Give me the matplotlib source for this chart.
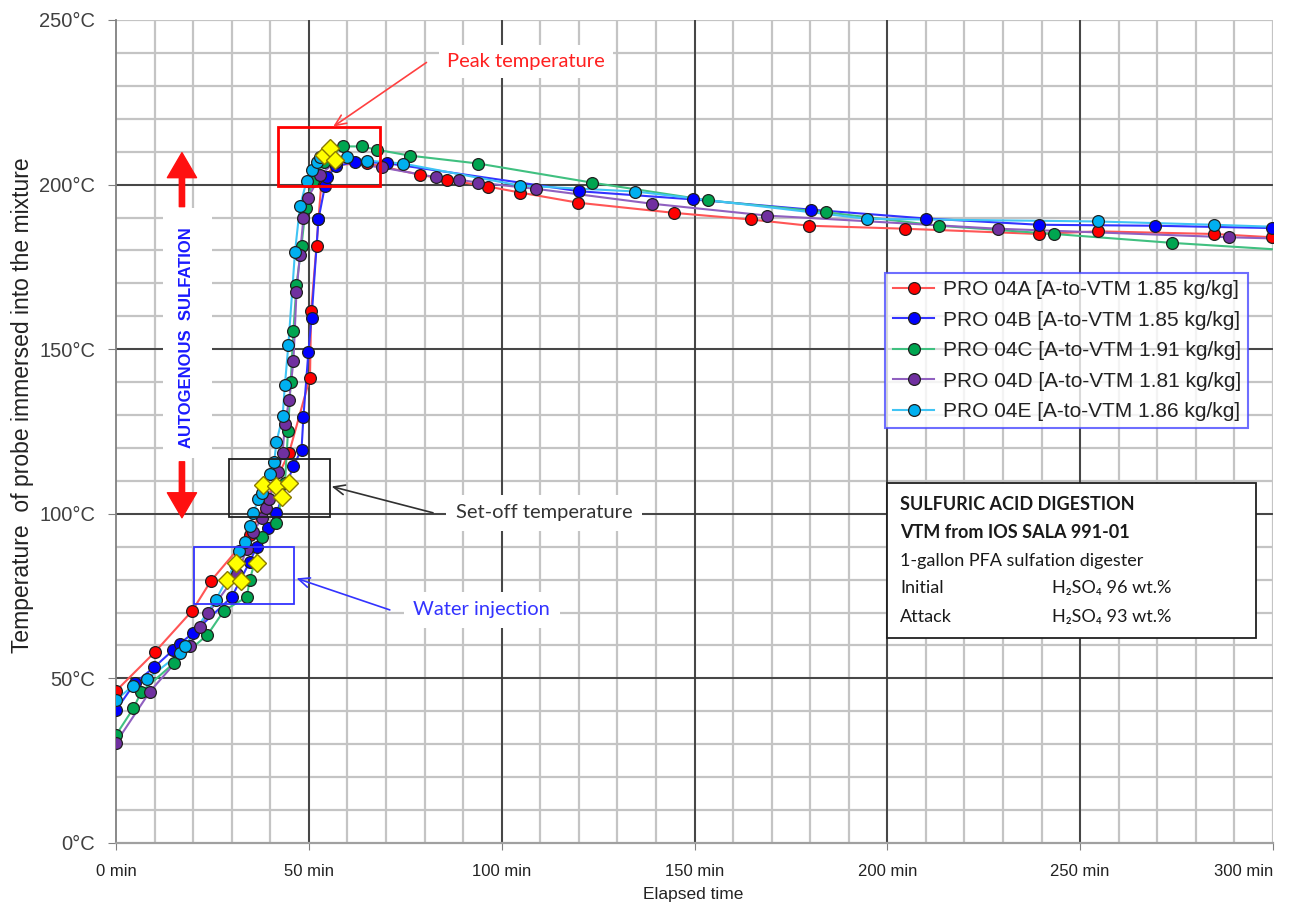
import matplotlib.pyplot as plt
from matplotlib.patches import Rectangle
from matplotlib.lines import Line2D

# Elapsed time (min) and probe temperature (deg C) for each run
red_t = [0, 10, 19.8, 24.6, 34.7, 44.9, 50.3, 50.6, 52, 52.5, 53.3, 57, 65, 78.8, 85.7, 96.5,
         104.7, 119.8, 144.8, 164.6, 179.7, 204.5, 239.3, 254.5, 284.6, 299.7]
red_T = [46.2, 57.9, 70.6, 79.6, 93.6, 118.6, 141.4, 161.5, 181.5, 189.5, 201.5, 206, 206.5, 203,
         201.5, 199.4, 197.6, 194.5, 191.4, 189.4, 187.5, 186.6, 185, 185.8, 185, 184]

blue_t = [0, 4.9, 9.9, 14.9, 16.6, 19.9, 30, 34.7, 36.5, 39.5, 41.6, 46, 48.1, 48.6, 49.9, 50.7,
          52.5, 54.2, 54.8, 57, 62, 70.2, 120, 149.6, 180.1, 210, 239.3, 269.4, 299.7]
blue_T = [40.4, 48.6, 53.4, 58.7, 60.6, 63.7, 74.7, 85.5, 90, 95.6, 100.2, 114.6, 119.5, 129.5,
          149.3, 159.4, 189.5, 199.7, 202.3, 205.5, 207, 206.5, 198, 195.5, 192.4, 189.7, 187.8,
          187.5, 186.8]

green_t = [0, 4.5, 6.6, 15, 23.7, 28, 33.9, 34.7, 37.8, 41.6, 43.8, 44.6, 45.3, 46, 46.8, 48.1,
           49.2, 51, 54, 58.9, 63.7, 67.6, 76.2, 93.9, 123.4, 153.6, 184, 213.4, 243.3, 273.8, 305]
green_T = [32.8, 40.9, 46, 54.6, 63.2, 70.6, 74.7, 80, 93, 97.3, 109.3, 125, 140, 155.6, 169.6,
           181.5, 193, 201, 207, 211.6, 211.6, 210.6, 208.8, 206.4, 200.6, 195.2, 191.6, 187.5,
           185, 182.3, 180]

purple_t = [0, 8.8, 19.2, 21.8, 23.9, 31.5, 33.9, 35.6, 37.8, 38.9, 39.7, 42.1, 43.2, 43.8, 44.9,
            46, 46.8, 47.7, 48.6, 49.8, 53, 57, 68.9, 83.1, 88.9, 93.9, 109, 138.9, 168.7, 228.6,
            288.5, 305]
purple_T = [30.5, 46, 59.9, 65.5, 69.8, 81.8, 89.2, 94.6, 98.6, 101.7, 104.4, 112.8, 118.6, 127.2,
            134.7, 146.3, 167.5, 178.7, 189.8, 196, 203, 207, 205.2, 202.2, 201.5, 200.6, 198.7,
            194.2, 190.6, 186.6, 184, 183.5]

cyan_t = [0, 4.5, 8, 16.6, 17.9, 25.9, 30.9, 32, 33.4, 34.7, 35.6, 36.9, 37.8, 39.9, 41, 41.6,
          43.2, 43.8, 44.7, 46.4, 47.7, 49.4, 50.7, 52, 52.9, 59.8, 65, 74.4, 104.7, 134.7, 194.7,
          254.5, 284.6, 305]
cyan_T = [43.5, 47.8, 49.7, 57.6, 59.9, 73.9, 84.8, 88.8, 91.5, 96.4, 100.2, 104.4, 106.4, 112.2,
          115.6, 121.8, 129.6, 139.2, 151.4, 179.4, 193.4, 201, 204.3, 207, 208.5, 208.5, 207.3,
          206.4, 199.7, 197.9, 189.6, 188.8, 187.8, 187]

# yellow diamonds: water injection, set-off and peak events
event_t = [28.7, 31, 32.5, 36.5, 38.2, 41.5, 43, 44.9, 54, 55.5, 56.8]
event_T = [80, 85, 79.5, 85, 108.8, 108.5, 105, 109.5, 209, 211, 207.5]

labels = ["PRO 04A [A-to-VTM 1.85 kg/kg]", "PRO 04B [A-to-VTM 1.85 kg/kg]",
          "PRO 04C [A-to-VTM 1.91 kg/kg]", "PRO 04D [A-to-VTM 1.81 kg/kg]",
          "PRO 04E [A-to-VTM 1.86 kg/kg]"]
face_colors = ["#ff0000", "#0000ff", "#00a550", "#7030a0", "#00b0f0"]
line_colors = ["#ff5555", "#3333ff", "#40c080", "#9060c0", "#40c4f4"]

series = [(red_t, red_T), (blue_t, blue_T), (green_t, green_T),
          (purple_t, purple_T), (cyan_t, cyan_T)]

plt.rcParams['font.family'] = ['Liberation Sans', 'DejaVu Sans']
note_font = ['Lato', 'DejaVu Sans']

fig = plt.figure(figsize=(12.97, 9.09), dpi=100)
ax = fig.add_axes([116 / 1297, 1 - 843 / 909, 1157 / 1297, 823 / 909])

ax.set_xlim(0, 300)
ax.set_ylim(0, 250)

# grid: light minor lines every 10, dark major lines every 50
for x in range(10, 301, 10):
    ax.axvline(x, color="#c4c4c4", lw=1.6, zorder=0.5)
for y in range(10, 251, 10):
    ax.axhline(y, color="#c4c4c4", lw=1.6, zorder=0.5)
for x in range(50, 300, 50):
    ax.axvline(x, color="#3a3a3a", lw=1.3, zorder=0.6)
for y in range(50, 250, 50):
    ax.axhline(y, color="#3a3a3a", lw=1.3, zorder=0.6)

for s in ["top", "right"]:
    ax.spines[s].set_visible(False)
ax.spines["left"].set_color("#808080")
ax.spines["bottom"].set_color("#a0a0a0")
ax.spines["left"].set_linewidth(1.3)
ax.spines["bottom"].set_linewidth(1.6)

ax.set_xticks(range(0, 301, 50))
ax.set_xticklabels([f"{v} min" for v in range(0, 301, 50)], fontsize=12, color="#222222")
ax.get_xticklabels()[-1].set_ha("right")
ax.set_yticks(range(0, 251, 50))
ax.set_yticklabels([f"{v}°C" for v in range(0, 251, 50)], fontsize=14.5, color="#404040")
ax.tick_params(axis="x", length=5, pad=10, color="#808080")
ax.tick_params(axis="y", length=6, pad=9, color="#808080")

ax.set_ylabel("Temperature  of probe immersed into the mixture", fontsize=16.5, color="#222222")
ax.yaxis.set_label_coords(-0.0812, 0.532)
ax.yaxis.label.set_va("center")
ax.set_xlabel("Elapsed time", fontsize=12.5, color="#222222")
ax.xaxis.set_label_coords(0.4987, -0.062)
ax.xaxis.label.set_va("center")

# white band behind the vertical label
ax.add_patch(Rectangle((12.2, 117), 12.7, 76, facecolor="white", edgecolor="none", zorder=0.8))
ax.text(18.4, 153.5, "AUTOGENOUS  SULFATION", rotation=90, ha="center", va="center",
        fontsize=12, fontweight="bold", color="#1a1aff", zorder=1)
ax.annotate("", xy=(17.1, 209.7), xytext=(17.1, 193.3),
            arrowprops=dict(arrowstyle="simple,head_length=0.9,head_width=1.05,tail_width=0.19",
                            color="#ff1010", mutation_scale=20, shrinkA=0, shrinkB=0), zorder=2)
ax.annotate("", xy=(17.1, 98.8), xytext=(17.1, 115.8),
            arrowprops=dict(arrowstyle="simple,head_length=0.9,head_width=1.05,tail_width=0.19",
                            color="#ff1010", mutation_scale=20, shrinkA=0, shrinkB=0), zorder=2)

# data series
for (t, T), fc, lc, lab in zip(series, face_colors, line_colors, labels):
    ax.plot(t, T, color=lc, lw=1.5, zorder=3)
    ax.plot(t, T, ls="none", marker="o", ms=8.5, mfc=fc, mec="#202020", mew=0.9, zorder=4)

ax.plot(event_t, event_T, ls="none", marker="D", ms=9.5, mfc="#ffff00", mec="#8a7a00",
        mew=1, zorder=5)

# event boxes and call-outs
ax.add_patch(Rectangle((42, 199.5), 26.5, 18, fill=False, edgecolor="#ff0000", lw=2, zorder=6))
ax.add_patch(Rectangle((29.4, 99.1), 26.1, 17.6, fill=False, edgecolor="#202020", lw=1.3, zorder=6))
ax.add_patch(Rectangle((20.3, 72.6), 25.8, 17.4, fill=False, edgecolor="#3333ff", lw=1.3, zorder=6))

ax.annotate("", xy=(56.3, 217.6), xytext=(80.5, 237.1),
            arrowprops=dict(arrowstyle="->,head_length=0.8,head_width=0.35", color="#ff4040",
                            lw=1.2, shrinkA=0, shrinkB=0), zorder=6)
ax.annotate("", xy=(55.9, 108.3), xytext=(82.2, 100.3),
            arrowprops=dict(arrowstyle="->,head_length=0.8,head_width=0.35", color="#303030",
                            lw=1.2, shrinkA=0, shrinkB=0), zorder=6)
ax.annotate("", xy=(46.8, 80.4), xytext=(71, 70.8),
            arrowprops=dict(arrowstyle="->,head_length=0.8,head_width=0.35", color="#3333ff",
                            lw=1.2, shrinkA=0, shrinkB=0), zorder=6)

ax.text(106.4, 237.4, "Peak temperature", ha="center", va="center", fontsize=14.5,
        family=note_font, color="#ff2020", zorder=6,
        bbox=dict(facecolor="white", edgecolor="none", pad=6))
ax.text(111, 100.3, "Set-off temperature", ha="center", va="center", fontsize=14.5,
        family=note_font, color="#333333", zorder=6,
        bbox=dict(facecolor="white", edgecolor="none", pad=7))
ax.text(94.8, 70.8, "Water injection", ha="center", va="center", fontsize=14.5,
        family=note_font, color="#3333ff", zorder=6,
        bbox=dict(facecolor="white", edgecolor="none", pad=7))

# legend
handles = [Line2D([], [], color=lc, lw=1.5, marker="o", ms=8.5, mfc=fc, mec="#202020", mew=0.9)
           for fc, lc in zip(face_colors, line_colors)]
leg = ax.legend(handles, labels, loc="upper left", bbox_to_anchor=(0.665, 0.6926),
                borderaxespad=0, fontsize=15, frameon=True, fancybox=False,
                handlelength=2.0, handletextpad=0.4, borderpad=0.35, labelspacing=0.55)
leg.get_frame().set_edgecolor("#4a4aff")
leg.get_frame().set_linewidth(1.5)
leg.set_zorder(7)
for txt in leg.get_texts():
    txt.set_color("#222222")

# experiment info box
ax.add_patch(Rectangle((0.666, 0.2495), 0.3193, 0.1883, transform=ax.transAxes,
                       facecolor="white", edgecolor="#202020", lw=1.3, zorder=7))
info_left = ["SULFURIC ACID DIGESTION", "VTM from IOS SALA 991-01",
             "1-gallon PFA sulfation digester", "Initial", "Attack"]
info_right = ["", "", "", "H₂SO₄ 96 wt.%", "H₂SO₄ 93 wt.%"]
info_y = [0.4115, 0.3767, 0.343, 0.3098, 0.275]
for i, (a, b, y) in enumerate(zip(info_left, info_right, info_y)):
    w = "bold" if i < 2 else "normal"
    ax.text(0.6776, y, a, transform=ax.transAxes, ha="left", va="center", fontsize=13,
            fontweight=w, family=note_font, color="#1a1a1a", zorder=8)
    if b:
        ax.text(0.8087, y, b, transform=ax.transAxes, ha="left", va="center", fontsize=13,
                family=note_font, color="#1a1a1a", zorder=8)

fig.savefig("out.png", dpi=100)
